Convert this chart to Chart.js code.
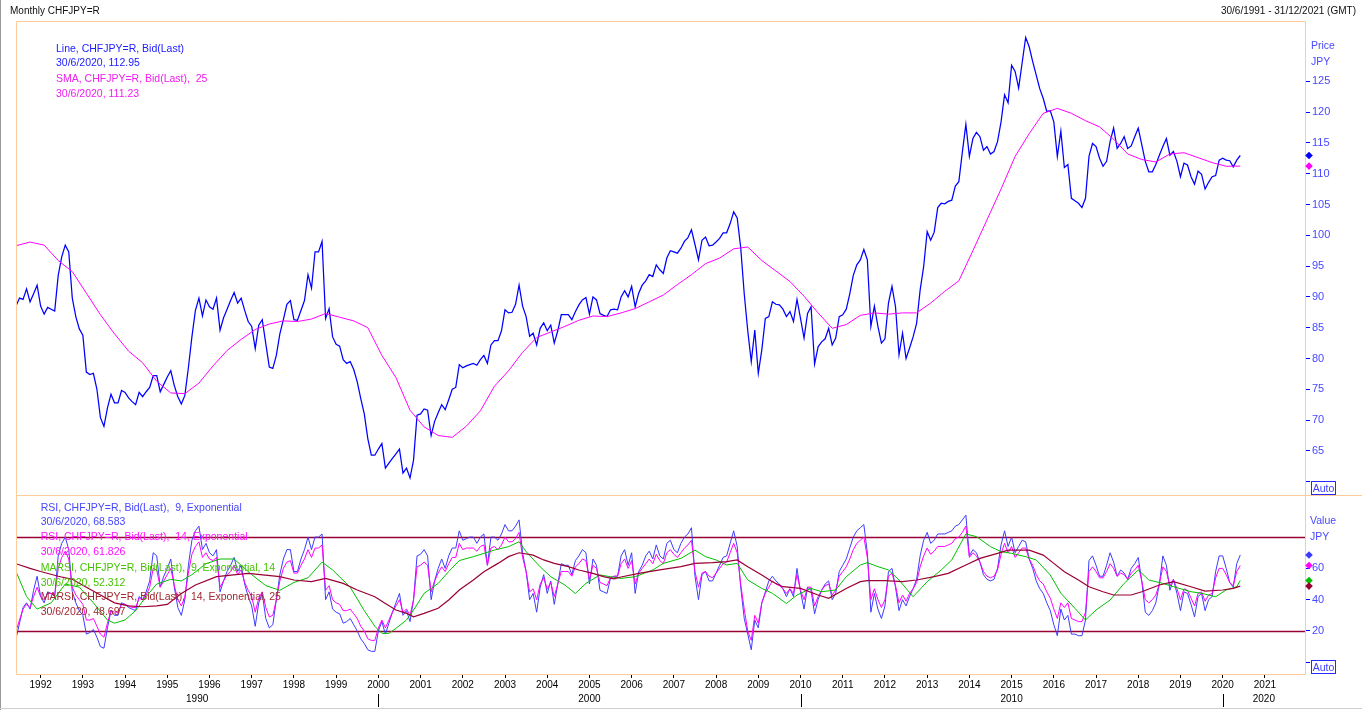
<!DOCTYPE html>
<html>
<head>
<meta charset="utf-8">
<title>Monthly CHFJPY=R</title>
<script src="https://cdn.jsdelivr.net/npm/chart.js@4.4.1/dist/chart.umd.min.js"></script>
<style>
  html, body { margin:0; padding:0; background:#ffffff; }
  body { position:relative; width:1362px; height:710px; overflow:hidden; font-family:"Liberation Sans", Arial, sans-serif; }
  canvas { position:absolute; left:0; }
  #priceCanvas { top:0; }
  #rsiCanvas { top:480px; }
  .txt { position:absolute; white-space:pre; line-height:1; margin:0; }
  .auto { position:absolute; border:1px solid #2a2aff; color:#4040ff; font-size:10.5px; line-height:12px; text-align:center; box-sizing:border-box; }
  .edgeL { position:absolute; left:0; top:0; width:1px; height:710px; background:#9a9a9a; }
  .edgeB { position:absolute; left:0; top:708px; width:1362px; height:1px; background:#cfcfcf; }
</style>
</head>
<body>
<canvas id="priceCanvas" width="1362" height="520" style="width:1362px;height:520px"></canvas>
<canvas id="rsiCanvas" width="1362" height="230" style="width:1362px;height:230px"></canvas>
<div class="edgeL"></div><div class="edgeB"></div>

<div class="txt" style="left:10px;top:5.5px;font-size:10px;color:#101010">Monthly CHFJPY=R</div>
<div class="txt" style="right:6px;top:5.5px;font-size:10px;color:#101010">30/6/1991 - 31/12/2021 (GMT)</div>

<div class="txt" style="left:56px;top:42.8px;font-size:10.5px;color:#2020ff">Line, CHFJPY=R, Bid(Last)</div>
<div class="txt" style="left:56px;top:57.3px;font-size:10.5px;color:#2020ff">30/6/2020, 112.95</div>
<div class="txt" style="left:56px;top:72.8px;font-size:10.5px;color:#f020f0">SMA, CHFJPY=R, Bid(Last),  25</div>
<div class="txt" style="left:56px;top:87.8px;font-size:10.5px;color:#f020f0">30/6/2020, 111.23</div>

<div class="txt" style="left:1311px;top:39.8px;font-size:10.5px;color:#4848ff">Price</div>
<div class="txt" style="left:1311px;top:55.5px;font-size:10.5px;color:#4848ff">JPY</div>
<div class="auto" style="left:1311px;top:481px;width:25px;height:14px">Auto</div>

<div class="txt" style="left:40.7px;top:501.5px;font-size:10.5px;color:#4646ff">RSI, CHFJPY=R, Bid(Last),  9, Exponential</div>
<div class="txt" style="left:40.7px;top:515.8px;font-size:10.5px;color:#4646ff">30/6/2020, 68.583</div>
<div class="txt" style="left:40.7px;top:531.1px;font-size:10.5px;color:#ff10ff">RSI, CHFJPY=R, Bid(Last),  14, Exponential</div>
<div class="txt" style="left:40.7px;top:545.8px;font-size:10.5px;color:#ff10ff">30/6/2020, 61.826</div>
<div class="txt" style="left:40.7px;top:561.5px;font-size:10.5px;color:#44c400">MARSI, CHFJPY=R, Bid(Last),  9, Exponential, 14</div>
<div class="txt" style="left:40.7px;top:576.5px;font-size:10.5px;color:#44c400">30/6/2020, 52.312</div>
<div class="txt" style="left:40.7px;top:590.8px;font-size:10.5px;color:#a02830">MARSI, CHFJPY=R, Bid(Last),  14, Exponential, 25</div>
<div class="txt" style="left:40.7px;top:605.8px;font-size:10.5px;color:#a02830">30/6/2020, 48.697</div>

<div class="txt" style="left:1310px;top:514.8px;font-size:10.5px;color:#4848ff">Value</div>
<div class="txt" style="left:1310px;top:530.5px;font-size:10.5px;color:#4848ff">JPY</div>
<div class="auto" style="left:1311px;top:660px;width:25px;height:14px">Auto</div>

<script>
// ---------- DATA (monthly, first point 30/6/1991, last point 30/6/2020) ----------
const firstYear = 1991;
const firstMonth = 6;

const priceValues = [
  88.5, 89.8, 89.6, 91.3, 89.2, 90.5, 91.9, 88.5, 87.2, 88.3, 88.0, 87.7,
  93.5, 96.5, 98.4, 97.3, 89.8, 86.8, 84.8, 83.8, 77.8, 77.4, 77.6, 75.0,
  70.4, 69.0, 72.0, 74.2, 72.8, 72.8, 74.8, 74.5, 73.6, 73.0, 72.5, 74.5,
  73.8, 74.6, 75.3, 77.2, 77.2, 74.6, 75.8, 77.0, 78.0, 75.6, 73.8, 72.6,
  74.0, 78.5, 83.5, 87.8, 89.8, 86.9, 89.5, 88.4, 88.0, 89.8, 84.6, 86.6,
  88.0, 89.4, 90.7, 89.0, 89.8, 87.8, 86.0, 85.2, 81.6, 85.4, 86.3, 82.4,
  78.6, 78.4, 80.5, 84.0, 86.3, 88.8, 89.4, 86.3, 86.2, 87.8, 89.4, 93.6,
  91.4, 97.3, 97.3, 99.0, 86.5, 88.1, 83.5, 82.3, 82.0, 79.8, 79.2, 79.5,
  78.2, 76.2, 73.5, 71.0, 67.0, 64.3, 64.3, 65.3, 66.2, 62.2, 63.0, 63.8,
  64.5, 65.3, 61.4, 62.2, 60.6, 63.5, 70.8, 71.0, 71.8, 71.6, 67.5, 69.8,
  71.2, 72.5, 71.7, 73.3, 75.0, 75.3, 79.0, 78.5, 78.8, 79.0, 79.2, 78.9,
  79.8, 80.5, 79.2, 82.2, 82.9, 82.9, 84.5, 87.9, 87.4, 87.5, 88.8, 91.9,
  88.5, 86.8, 83.6, 84.1, 82.2, 84.9, 85.8, 84.5, 85.4, 82.5, 84.5, 87.1,
  87.1, 87.1, 86.3, 87.6, 88.7, 89.5, 89.9, 87.2, 90.0, 89.5, 87.3, 87.0,
  86.8, 87.9, 88.0, 87.9, 90.0, 91.0, 90.0, 91.7, 88.4, 90.6, 91.9, 92.6,
  93.6, 93.3, 95.2, 94.4, 93.8, 96.3, 97.5, 97.3, 97.1, 97.9, 99.0, 99.6,
  100.9, 98.5, 96.0, 99.2, 99.7, 98.3, 98.4, 98.9, 99.5, 100.4, 100.4, 101.9,
  103.8, 102.8, 98.0, 90.5, 84.5, 79.5, 84.6, 77.6, 81.4, 86.5, 86.8, 89.2,
  88.8, 88.7, 88.0, 86.8, 87.6, 86.0, 89.6, 86.5, 83.3, 87.3, 88.4, 79.1,
  81.9, 82.7, 83.2, 84.9, 82.2, 83.3, 86.8, 87.1, 88.0, 90.5, 93.5, 95.2,
  96.0, 97.7, 96.0, 85.2, 88.5, 85.2, 82.5, 83.2, 89.0, 91.7, 88.4, 80.6,
  84.1, 80.0, 81.7, 83.5, 85.7, 91.1, 94.9, 100.6, 99.2, 100.5, 104.5, 105.2,
  105.1, 105.5, 105.7, 108.0, 108.7, 113.5, 118.0, 112.8, 115.7, 116.7, 116.0, 113.8,
  114.4, 113.2, 113.6, 115.2, 118.4, 122.8, 121.5, 127.6, 126.6, 123.9, 128.0, 132.1,
  130.6, 128.2, 126.0, 123.8, 122.2, 120.1, 120.2, 118.4, 112.8, 116.9, 111.0, 111.5,
  106.0, 105.6, 105.2, 104.5, 106.0, 112.8, 114.9, 114.4, 112.5, 111.2, 112.0, 115.2,
  117.4, 114.1, 114.9, 116.0, 114.1, 114.5, 116.0, 117.4, 114.7, 112.0, 110.3, 110.3,
  111.5, 113.0, 114.4, 115.7, 113.0, 113.6, 112.0, 109.5, 111.7, 111.4, 109.5, 108.3,
  110.4, 109.9, 107.5, 108.6, 109.5, 109.7, 112.2, 112.5, 112.2, 112.1, 111.1, 112.2, 112.95
];

// SMA 25, read every 4 months
const smaStep = 4;
const smaValues = [
  98.3, 98.9, 98.4, 95.9, 94.1, 90.6, 87.1, 84.0, 81.2, 79.3, 76.3, 74.4,
  74.3, 76.0, 78.8, 81.3, 83.1, 84.7, 85.6, 86.1, 86.0, 86.4, 87.3, 86.7,
  86.1, 85.0, 80.5, 76.9, 71.6, 68.9, 67.5, 67.2, 69.0, 71.5, 75.5, 78.0,
  81.0, 83.4, 84.3, 85.2, 86.2, 86.9, 86.8, 87.4, 88.1, 89.2, 90.3, 92.0,
  93.6, 95.4, 96.3, 97.8, 98.1, 95.9, 94.2, 92.5, 90.1, 87.4, 84.9, 85.5,
  87.0, 87.4, 87.2, 87.4, 87.4, 89.0, 90.9, 92.6, 97.5, 102.5, 107.5, 112.8,
  116.5, 119.8, 120.6, 119.8, 118.6, 117.6, 115.6, 113.2, 112.3, 111.9, 113.2, 113.4,
  112.6, 111.8, 111.2, 111.23
];

const rsi9Values = [
  15, 25, 35, 38, 34, 46, 55, 42, 38, 45, 44, 42,
  68, 76, 80, 72, 45, 38, 33, 30, 18, 19, 21, 16,
  10, 9, 22, 33, 30, 30, 38, 37, 35, 34, 33, 42,
  40, 45, 52, 70, 68, 48, 55, 60, 66, 48, 35, 30,
  40, 62, 78, 84, 87, 72, 76, 70, 68, 72, 45, 52,
  58, 62, 67, 58, 62, 50, 42, 36, 23, 38, 44, 28,
  22, 24, 40, 56, 66, 72, 72, 58, 58, 66, 72, 80,
  72, 80, 80, 82, 40, 45, 34, 32, 31, 25, 26, 28,
  24, 20, 15, 12, 8, 7, 7, 20, 26, 18, 25, 32,
  38, 44, 30, 33, 26, 40, 68, 69, 72, 68, 40, 52,
  60, 66, 60, 68, 73, 73, 84, 78, 79, 80, 80, 76,
  80, 82, 62, 80, 80, 78, 82, 88, 84, 84, 87, 91,
  70, 58, 40, 44, 32, 48, 56, 44, 52, 37, 50, 63,
  62, 62, 56, 65, 68, 72, 70, 50, 66, 62, 46, 45,
  44, 54, 55, 55, 68, 72, 62, 70, 44, 58, 62, 68,
  71, 66, 75, 68, 66, 76, 78, 72, 70, 76, 80, 82,
  86, 55, 40, 56, 58, 52, 52, 57, 62, 67, 68, 76,
  84, 74, 48, 28, 18, 8, 27, 22, 38, 45, 52, 55,
  52, 50, 47, 42, 47, 42, 60, 45, 34, 48, 46, 31,
  40, 46, 50, 52, 40, 44, 58, 62, 66, 73, 80, 84,
  86, 88, 70, 32, 44, 34, 28, 36, 58, 60, 48, 33,
  40, 36, 42, 47, 53, 68, 78, 83, 76, 78, 82, 82,
  82, 83, 84, 87, 88, 91, 94, 68, 72, 70, 64, 56,
  53, 52, 53, 60, 75, 84, 74, 80, 70, 74, 78, 77,
  66, 60, 52, 47, 44, 38, 33, 24, 17, 34, 27, 30,
  18, 18, 17, 17, 27, 65, 68, 62, 55, 55, 62, 70,
  64, 55, 59, 57, 53, 60, 63, 67, 52, 32, 30, 33,
  38, 50, 68, 62, 46, 53, 44, 33, 45, 44, 37, 29,
  42, 44, 33, 40, 42, 58, 68, 68, 60, 51, 48, 63, 68.583
];

const rsi14Values = [
  20, 27, 34, 37, 35, 42, 48, 42, 40, 44, 44, 43,
  60, 67, 71, 66, 48, 43, 40, 37, 27, 27, 28, 23,
  18, 16, 25, 33, 32, 32, 37, 37, 36, 35, 35, 41,
  40, 43, 48, 60, 59, 48, 52, 56, 60, 49, 40, 36,
  42, 57, 69, 74, 77, 67, 70, 66, 65, 67, 48, 52,
  56, 58, 62, 56, 59, 51, 46, 42, 32, 41, 45, 35,
  29, 30, 40, 52, 60, 64, 65, 57, 57, 62, 66, 72,
  67, 73, 73, 75, 46, 49, 40, 38, 37, 33, 33, 34,
  31, 28, 23, 20, 15, 14, 14, 22, 27, 22, 27, 32,
  36, 40, 32, 34, 30, 40, 61, 62, 64, 62, 45, 52,
  57, 61, 58, 63, 67, 67, 76, 72, 73, 73, 73, 71,
  74, 75, 62, 73, 74, 72, 75, 80, 77, 77, 79, 83,
  67, 58, 45, 47, 40, 50, 54, 47, 51, 42, 50, 58,
  58, 58, 55, 61, 63, 66, 65, 53, 62, 60, 51, 50,
  49, 54, 55, 55, 63, 66, 60, 65, 50, 57, 60, 63,
  66, 63, 69, 65, 63, 70, 72, 69, 67, 70, 73, 75,
  78, 58, 48, 57, 58, 55, 54, 57, 60, 63, 64, 70,
  76, 70, 50, 34, 20, 14, 30, 25, 38, 44, 48, 52,
  50, 49, 47, 44, 47, 44, 56, 46, 40, 48, 48, 36,
  42, 46, 49, 50, 43, 46, 55, 58, 61, 66, 72, 76,
  78, 80, 67, 40, 47, 40, 35, 40, 55, 57, 49, 38,
  43, 39, 44, 47, 51, 61, 68, 73, 69, 71, 74, 74,
  74, 75, 76, 79, 80, 83, 87, 67, 70, 68, 64, 58,
  55, 54, 55, 59, 69, 76, 70, 74, 67, 70, 73, 73,
  66, 62, 56, 52, 50, 45, 41, 34, 28, 38, 35, 38,
  28, 27, 26, 26, 32, 58, 61, 58, 54, 54, 58, 63,
  60, 55, 57, 56, 53, 57, 59, 62, 52, 40, 38, 40,
  43, 50, 61, 58, 49, 53, 47, 40, 47, 46, 41, 36,
  44, 45, 39, 43, 44, 54, 60, 60, 56, 51, 49, 58, 61.826
];

// MARSI 9,14 (green) read at these month indices
const marsi9Months = [0,3,6,10,14,18,22,26,28,31,34,37,40,44,47,50,54,58,62,67,71,75,79,83,87,90,95,99,102,104,
  106,108,111,113,116,120,123,126,130,133,136,140,143,145,149,152,156,159,162,166,169,172,176,181,184,189,193,196,199,202,
  205,208,212,215,219,222,226,229,233,236,240,242,245,248,251,255,259,263,266,270,273,277,280,283,287,290,294,297,301,304,
  307,311,315,319,322,326,329,334,337,341,344,347,348];
const marsi9Values = [58,42,34,38,50,48,38,27,25,27,33,42,50,53,52,56,63,66,66,56,49,46,51,54,64,59,48,33,23,18.5,
  18.5,21.7,27,33.4,44,50.4,58,65,67.5,69.6,71.7,73.9,77,70.7,61,54.7,49.4,44,50.4,55.8,54.7,53.6,54.7,59,63.2,66.4,71.7,67.5,65.4,62.2,
  63.2,52.6,47.2,44.1,37.6,43,47.2,45.1,46.2,54.7,62.2,63.7,61.1,59,52.6,41.9,51.5,59,65.4,82,80.3,73.9,70.7,69.6,67.5,65.4,55.8,44.1,34.5,27,
  33.4,39.8,50.4,59,52.6,50.4,48.3,45.1,44.1,41.9,46.2,48.3,52.312];

// MARSI 14,25 (maroon) read at these month indices
const marsi14Months = [0,4,7,12,16,20,24,28,32,36,40,43,47,51,57,66,75,79,84,88,93,97,102,105,108,111,113,116,120,123,
  126,130,133,137,140,143,147,150,153,157,160,164,167,170,172,177,183,189,193,198,202,205,208,212,215,218,223,228,231,236,
  240,242,247,252,256,261,265,270,274,279,282,286,288,292,295,298,302,305,309,312,317,320,325,329,334,338,343,346,348];
const marsi14Values = [63,60,58,55,53,48,43,38,36,35.5,36,37,44,49.4,54.7,56.8,54.7,52.6,51.5,53.6,50.4,46.2,41.9,37.6,33.4,31.3,29.1,31.3,34.5,39.8,
  46.2,52.6,57.9,63.2,67.5,70,68.5,65.4,63.2,61.1,59,56.8,54.7,53.3,54.5,56.8,59,61.1,63.2,63.7,64.3,65.4,61.1,55.8,51.5,48.3,47.2,43,40.9,47.2,
  51.5,52.2,52.2,51.5,52.6,54.7,56.8,62.2,66.4,69.6,71.7,71.7,71.7,68.5,63.2,57.9,52.6,48.3,45.1,43,43,45.1,49.4,51.5,48.3,45.5,46.2,47.2,48.697];

const priceTicks = [60,65,70,75,80,85,90,95,100,105,110,115,120,125];
const rsiTicks = [0,20,40,60];
const rsiBands = [20,80];
const yearTicks = [1992,1993,1994,1995,1996,1997,1998,1999,2000,2001,2002,2003,2004,2005,2006,
  2007,2008,2009,2010,2011,2012,2013,2014,2015,2016,2017,2018,2019,2020,2021];
const decades = [1990,2000,2010,2020];

// ---------- helpers ----------
const xMin = firstYear + (firstMonth - 1) / 12;
const xMax = 2021.95;
const monthX = i => xMin + i / 12;
const series = vals => vals.map((v, i) => ({x: monthX(i), y: v}));
const sparse = (months, vals) => months.map((m, k) => ({x: monthX(m), y: vals[k]}));

const FRAME = '#ffcc99';
const C_PRICE = '#0000ff', C_SMA = '#ff00ff', C_RSI9 = '#3c3cff', C_RSI14 = '#ff00ff', C_M9 = '#00c000', C_M14 = '#990033';
Chart.defaults.font.family = '"Liberation Sans", Arial, sans-serif';

function diamond(ctx, x, y, c) {
  ctx.fillStyle = c;
  ctx.beginPath();
  ctx.moveTo(x, y - 3.8); ctx.lineTo(x + 3.8, y); ctx.lineTo(x, y + 3.8); ctx.lineTo(x - 3.8, y);
  ctx.closePath(); ctx.fill();
}

const priceDecor = {
  id: 'priceDecor',
  afterDraw(chart) {
    const {ctx, chartArea: a, scales: {y}} = chart;
    ctx.save();
    ctx.strokeStyle = FRAME; ctx.lineWidth = 1;
    const L = Math.round(a.left) + 0.5, R = Math.round(a.right) + 0.5, T = Math.round(a.top) - 0.5, B = Math.round(a.bottom) + 0.5;
    ctx.beginPath();
    ctx.moveTo(L, B); ctx.lineTo(L, T); ctx.lineTo(R, T); ctx.lineTo(R, B);
    ctx.moveTo(L, B); ctx.lineTo(chart.width, B);
    ctx.stroke();
    diamond(ctx, a.right + 4, y.getPixelForValue(priceValues[priceValues.length - 1]), C_PRICE);
    diamond(ctx, a.right + 4, y.getPixelForValue(smaValues[smaValues.length - 1]), C_SMA);
    ctx.restore();
  }
};

const rsiDecor = {
  id: 'rsiDecor',
  beforeDatasetsDraw(chart) {
    const {ctx, chartArea: a, scales: {y}} = chart;
    ctx.save();
    ctx.strokeStyle = '#990033'; ctx.lineWidth = 1.6;
    rsiBands.forEach(v => {
      const py = Math.round(y.getPixelForValue(v)) + 0.5;
      ctx.beginPath(); ctx.moveTo(a.left, py); ctx.lineTo(a.right, py); ctx.stroke();
    });
    ctx.restore();
  },
  afterDraw(chart) {
    const {ctx, chartArea: a, scales: {x, y}} = chart;
    ctx.save();
    ctx.strokeStyle = FRAME; ctx.lineWidth = 1;
    const L = Math.round(a.left) + 0.5, R = Math.round(a.right) + 0.5, T = Math.round(a.top) - 0.5, B = Math.round(a.bottom) + 0.5;
    ctx.beginPath();
    ctx.moveTo(L, T); ctx.lineTo(L, B); ctx.lineTo(R, B); ctx.lineTo(R, T);
    ctx.stroke();
    const last = arr => arr[arr.length - 1];
    diamond(ctx, a.right + 4, y.getPixelForValue(last(rsi9Values)), C_RSI9);
    diamond(ctx, a.right + 4, y.getPixelForValue(last(rsi14Values)), C_RSI14);
    diamond(ctx, a.right + 4, y.getPixelForValue(last(marsi9Values)), C_M9);
    diamond(ctx, a.right + 4, y.getPixelForValue(last(marsi14Values)), C_M14);
    // decade row
    ctx.fillStyle = '#000'; ctx.font = '10px "Liberation Sans", Arial, sans-serif';
    ctx.textAlign = 'center'; ctx.textBaseline = 'middle';
    ctx.strokeStyle = '#000'; ctx.lineWidth = 1;
    const rowY = a.bottom + 25;
    decades.forEach(d => {
      const s = Math.max(d, xMin), e = Math.min(d + 10, xMax);
      const mid = (x.getPixelForValue(s) + x.getPixelForValue(e)) / 2;
      ctx.fillText(String(d), mid, rowY);
      if (d > xMin) {
        const px = Math.round(x.getPixelForValue(d)) + 0.5;
        ctx.beginPath(); ctx.moveTo(px, a.bottom + 20); ctx.lineTo(px, a.bottom + 33); ctx.stroke();
      }
    });
    ctx.restore();
  }
};

const lineDs = (data, color, w) => ({data, borderColor: color, borderWidth: w, pointRadius: 0, tension: 0, fill: false});

new Chart(document.getElementById('priceCanvas'), {
  type: 'line',
  data: {datasets: [lineDs(sparse(smaValues.map((v, k) => k * smaStep), smaValues), C_SMA, 1), lineDs(series(priceValues), C_PRICE, 1.25)]},
  options: {
    responsive: false, animation: false, events: [],
    layout: {padding: {left: 16, top: 22, right: 0, bottom: 25}},
    plugins: {legend: {display: false}, tooltip: {enabled: false}},
    scales: {
      x: {type: 'linear', min: xMin, max: xMax, display: false},
      y: {
        position: 'right', min: 57.84, max: 134.62,
        afterBuildTicks: s => { s.ticks = priceTicks.map(v => ({value: v})); },
        afterFit: s => { s.width = 57; },
        grid: {drawOnChartArea: false, drawTicks: true, tickLength: 5, color: '#0000ff', lineWidth: 1},
        border: {display: false},
        ticks: {color: '#4848ff', font: {size: 11}, padding: 2, callback: v => (v === 60 ? '' : String(v))}
      }
    }
  },
  plugins: [priceDecor]
});

new Chart(document.getElementById('rsiCanvas'), {
  type: 'line',
  data: {datasets: [
    lineDs(sparse(marsi14Months, marsi14Values), C_M14, 1.2),
    lineDs(sparse(marsi9Months, marsi9Values), C_M9, 1),
    lineDs(series(rsi14Values), C_RSI14, 1),
    lineDs(series(rsi9Values), C_RSI9, 1)
  ]},
  options: {
    responsive: false, animation: false, events: [],
    layout: {padding: {left: 16, top: 16, right: 0, bottom: 0}},
    plugins: {legend: {display: false}, tooltip: {enabled: false}},
    scales: {
      x: {
        type: 'linear', min: xMin, max: xMax, position: 'bottom',
        afterBuildTicks: s => { s.ticks = yearTicks.map(v => ({value: v})); },
        afterFit: s => { s.height = 36; },
        grid: {drawOnChartArea: false, drawTicks: true, tickLength: 4, color: '#000000'},
        border: {display: false},
        ticks: {color: '#000000', font: {size: 10}, padding: 1, maxRotation: 0, autoSkip: false, callback: v => String(v)}
      },
      y: {
        position: 'right', min: -7.48, max: 106.26,
        afterBuildTicks: s => { s.ticks = rsiTicks.map(v => ({value: v})); },
        afterFit: s => { s.width = 57; },
        grid: {drawOnChartArea: false, drawTicks: true, tickLength: 5, color: '#0000ff', lineWidth: 1},
        border: {display: false},
        ticks: {color: '#4848ff', font: {size: 11}, padding: 2, callback: v => (v === 0 ? '' : String(v))}
      }
    }
  },
  plugins: [rsiDecor]
});
</script>
</body>
</html>
